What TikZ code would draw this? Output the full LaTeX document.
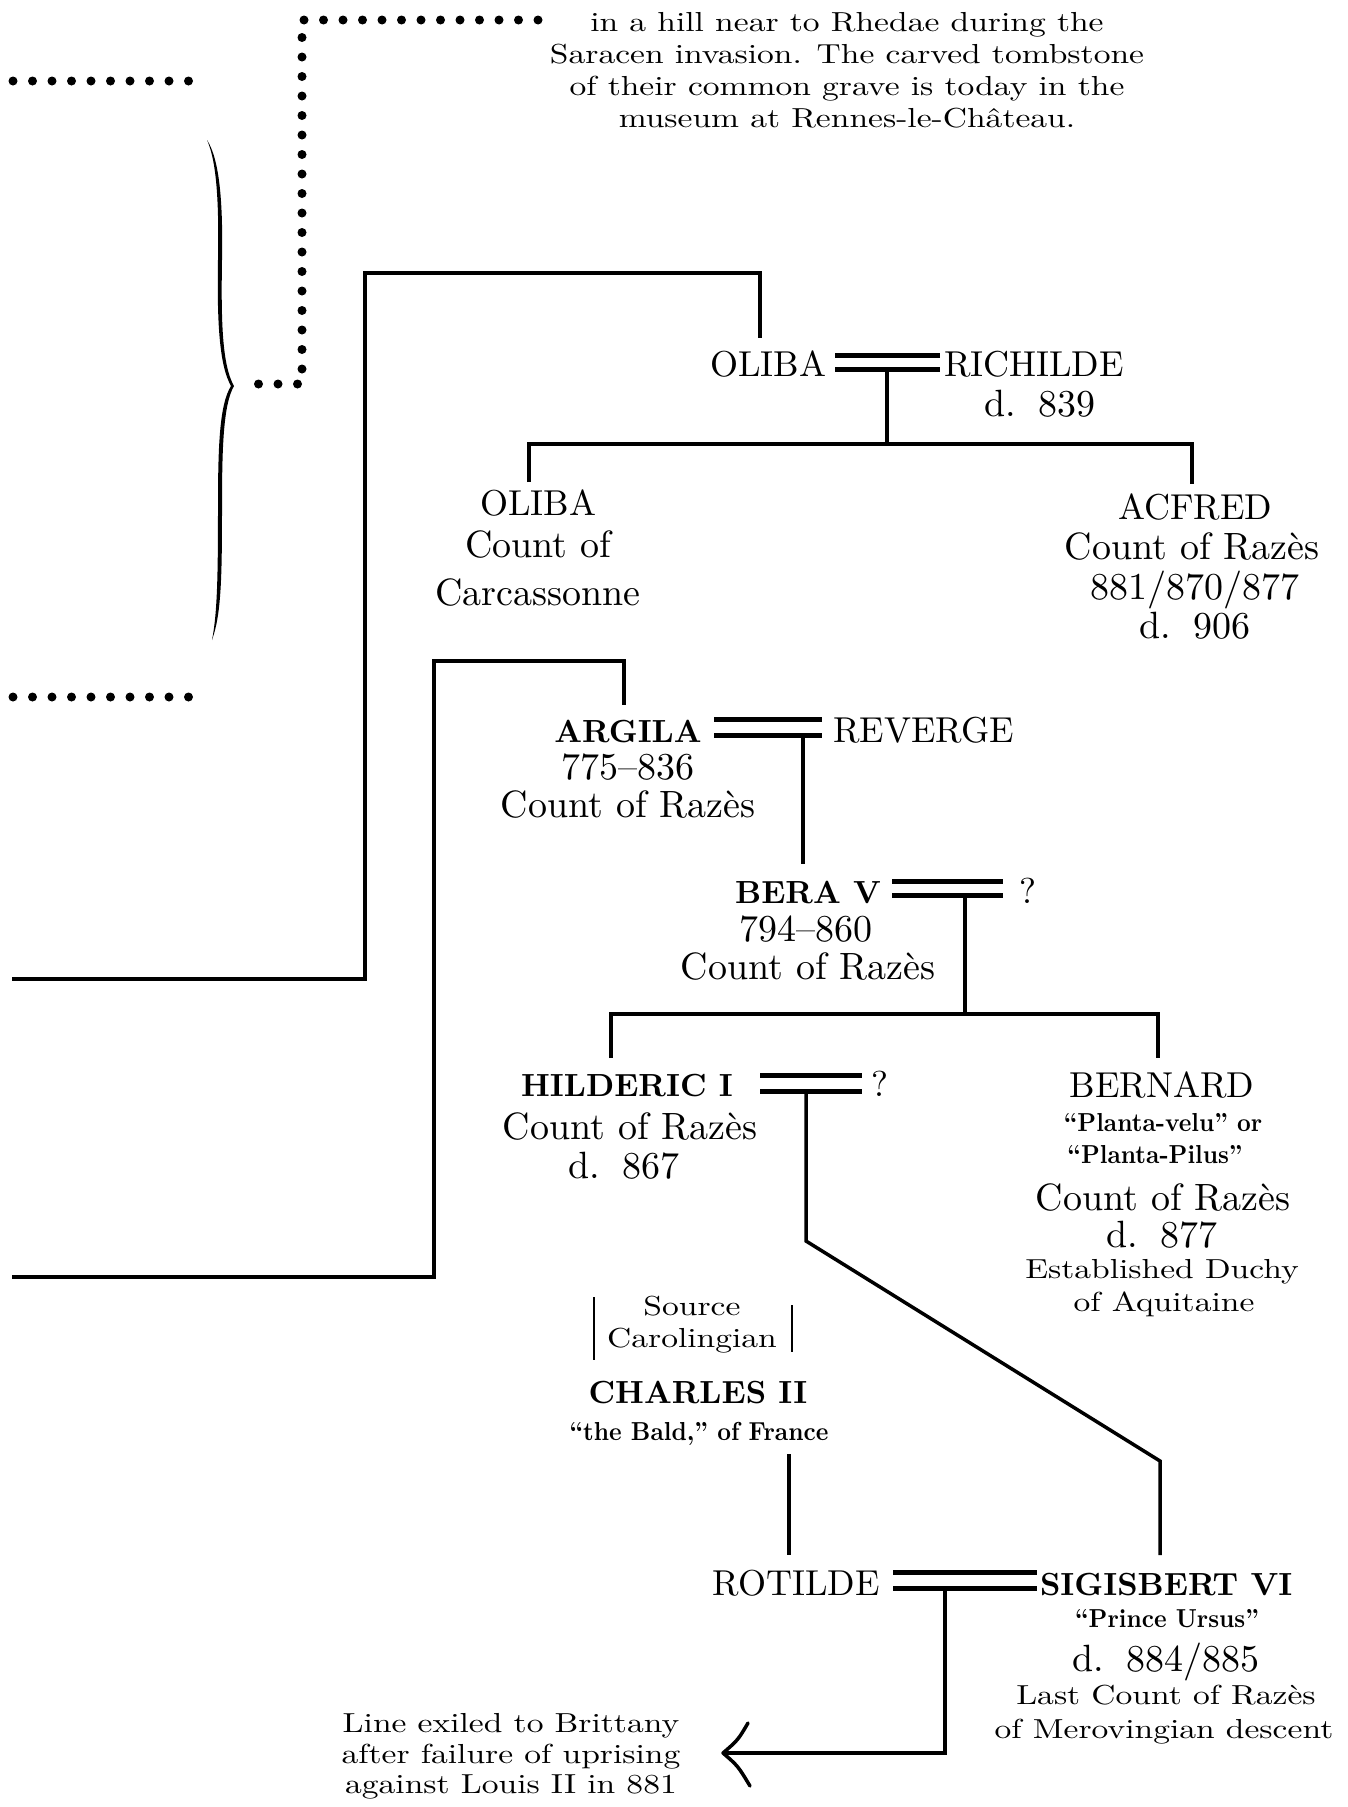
\documentclass[tikz,border=0pt]{standalone}
\usepackage{fontspec}
\setmainfont{lmroman10-regular.otf}[BoldFont=lmroman10-bold.otf]
\newfontfamily\smallserif{lmroman10-regular.otf}[FakeStretch=1.22]
\newfontfamily\condbold{lmroman10-bold.otf}[FakeStretch=0.92]
\begin{document}
\begin{tikzpicture}[x=1pt,y=-1pt,
  lbl/.style={anchor=base, inner sep=0pt, outer sep=0pt},
  nm/.style={lbl, font=\fontsize{36}{40}\selectfont},
  bnm/.style={lbl, font=\fontsize{32}{36}\selectfont\bfseries},
  ds/.style={lbl, font=\fontsize{38}{42}\selectfont},
  sm/.style={lbl, font=\smallserif\fontsize{27.5}{31}\selectfont},
  cb/.style={lbl, font=\condbold\fontsize{26}{30}\selectfont},
  conn/.style={line width=3.5pt},
  bar/.style={line width=4.5pt},
  marr/.style={line width=5pt},
  thinbar/.style={line width=2.5pt},
  dotline/.style={line width=9pt, line cap=round, dash pattern=on 0pt off 19.5pt},
]
\fill[white] (0,0) rectangle (1348,1807);
\useasboundingbox (0,0) rectangle (1348,1807);

% ---------- top note ----------
\node[sm] (p1) at (847,31) {in a hill near to Rhedae during the};
\node[sm] (p2) at (847,63) {Saracen invasion. The carved tombstone};
\node[sm] (p3) at (847,95) {of their common grave is today in the};
\node[sm] (p4) at (847,127) {museum at Rennes-le-Château.};

% ---------- dotted lines ----------
\coordinate (dA) at (538,20);
\coordinate (dB) at (302,20);
\coordinate (dC) at (302,384);
\coordinate (dD) at (258,384);
\draw[dotline] (dA) -- (dB) -- (dC) -- (dD);
\coordinate (dL1) at (13,81);
\coordinate (dL2) at (208,81);
\draw[dotline] (dL1) -- (dL2);
\coordinate (dL3) at (13,697);
\coordinate (dL4) at (208,697);
\draw[dotline] (dL3) -- (dL4);

% ---------- brace ----------
\fill (207,140) .. controls (220,160) and (223,205) .. (222,260)
  .. controls (221,320) and (222,365) .. (234,386)
  .. controls (223,405) and (222,450) .. (222,510)
  .. controls (222,580) and (221,615) .. (212,640)
  .. controls (217,615) and (218,580) .. (218,510)
  .. controls (218,450) and (219,405) .. (231,386)
  .. controls (219,365) and (217,320) .. (218,260)
  .. controls (219,205) and (217,162) .. (207,140) -- cycle;

% ---------- names ----------
\node[nm] (oliba) at (768,376) {OLIBA};
\node[nm, anchor=base west] (richilde) at (944,376) {RICHILDE};
\node[ds] (richd) at (1040,416) {d.\hspace{0.6em}839};

\node[nm] (oliba2) at (538,515) {OLIBA};
\node[ds] (oliba2a) at (538,557) {Count of};
\node[ds] (oliba2b) at (538,605) {Carcassonne};

\node[nm] (acfred) at (1195,519) {ACFRED};
\node[ds] (acfreda) at (1192,559) {Count of Razès};
\node[ds] (acfredb) at (1195,599) {881/870/877};
\node[ds] (acfredc) at (1195,638) {d.\hspace{0.6em}906};

\node[bnm] (argila) at (628,742) {ARGILA};
\node[ds] (argilaa) at (628,779) {775–836};
\node[ds] (argilab) at (628,817) {Count of Razès};
\node[nm, anchor=base west] (reverge) at (833,742) {REVERGE};

\node[bnm] (bera) at (808,903) {BERA V};
\node[ds] (beraa) at (806,941) {794–860};
\node[ds] (berab) at (808,979) {Count of Razès};
\node[nm] (beraq) at (1028,903) {?};

\node[bnm] (hilderic) at (627,1096) {HILDERIC I};
\node[ds] (hila) at (630,1139) {Count of Razès};
\node[ds] (hilb) at (624,1178) {d.\hspace{0.6em}867};
\node[nm] (hilq) at (880,1096) {?};

\node[nm] (bernard) at (1162,1097) {BERNARD};
\node[cb] (berna) at (1163,1131) {“Planta-velu” or};
\node[cb] (bernb) at (1155,1163) {“Planta-Pilus”};
\node[ds] (bernc) at (1163,1210) {Count of Razès};
\node[ds] (bernd) at (1162,1247) {d.\hspace{0.6em}877};
\node[sm] (berne) at (1162,1278) {Established Duchy};
\node[sm] (bernf) at (1164,1311) {of Aquitaine};

\node[sm] (src1) at (692,1315) {Source};
\node[sm] (src2) at (692,1347) {Carolingian};
\coordinate (srcL1) at (594,1297);
\coordinate (srcL2) at (594,1360);
\coordinate (srcR1) at (792,1305);
\coordinate (srcR2) at (792,1352);
\draw[thinbar] (srcL1) -- (srcL2);
\draw[thinbar] (srcR1) -- (srcR2);

\node[bnm] (charles) at (698,1403) {CHARLES II};
\node[cb] (charlesa) at (699,1440) {“the Bald,” of France};

\node[nm] (rotilde) at (796,1595) {ROTILDE};
\node[bnm, anchor=base west] (sigis) at (1040,1595) {SIGISBERT VI};
\node[cb] (sigisa) at (1167,1627) {“Prince Ursus”};
\node[ds] (sigisb) at (1166,1671) {d.\hspace{0.6em}884/885};
\node[sm] (sigisc) at (1166,1704) {Last Count of Razès};
\node[sm] (sigisd) at (1164,1738) {of Merovingian descent};

\node[sm] (exile1) at (511,1732) {Line exiled to Brittany};
\node[sm] (exile2) at (511,1763) {after failure of uprising};
\node[sm] (exile3) at (511,1793) {against Louis II in 881};

% ---------- connectors ----------
% line from left to OLIBA
\coordinate (a1) at (12,979);
\coordinate (a2) at (365,979);
\coordinate (a3) at (365,273);
\coordinate (a4) at (760,273);
\coordinate (a5) at (760,338);
\draw[bar] (a1) -- (a2) -- (a3) -- (a4) -- (a5);

% OLIBA = RICHILDE
\coordinate (m1a) at (835,355); \coordinate (m1b) at (940,355);
\coordinate (m1c) at (835,369); \coordinate (m1d) at (940,369);
\draw[marr] (m1a) -- (m1b);
\draw[marr] (m1c) -- (m1d);
\coordinate (d1a) at (887,369);
\coordinate (d1b) at (887,444);
\draw[conn] (d1a) -- (d1b);
\coordinate (b1a) at (529,482); \coordinate (b1b) at (529,444);
\coordinate (b1c) at (1192,444); \coordinate (b1d) at (1192,484);
\draw[bar] (b1a) -- (b1b) -- (b1c) -- (b1d);

% line from left to ARGILA
\coordinate (c1) at (12,1277);
\coordinate (c2) at (434,1277);
\coordinate (c3) at (434,661);
\coordinate (c4) at (624,661);
\coordinate (c5) at (624,705);
\draw[bar] (c1) -- (c2) -- (c3) -- (c4) -- (c5);

% ARGILA = REVERGE
\coordinate (m2a) at (714,719); \coordinate (m2b) at (822,719);
\coordinate (m2c) at (714,735); \coordinate (m2d) at (822,735);
\draw[marr] (m2a) -- (m2b);
\draw[marr] (m2c) -- (m2d);
\coordinate (d2a) at (803,735);
\coordinate (d2b) at (803,864);
\draw[conn] (d2a) -- (d2b);

% BERA V = ?
\coordinate (m3a) at (892,881); \coordinate (m3b) at (1003,881);
\coordinate (m3c) at (892,895); \coordinate (m3d) at (1003,895);
\draw[marr] (m3a) -- (m3b);
\draw[marr] (m3c) -- (m3d);
\coordinate (d3a) at (965,895);
\coordinate (d3b) at (965,1014);
\draw[conn] (d3a) -- (d3b);
\coordinate (b2a) at (611,1058); \coordinate (b2b) at (611,1014);
\coordinate (b2c) at (1158,1014); \coordinate (b2d) at (1158,1058);
\draw[bar] (b2a) -- (b2b) -- (b2c) -- (b2d);

% HILDERIC I = ?
\coordinate (m4a) at (760,1075); \coordinate (m4b) at (862,1075);
\coordinate (m4c) at (760,1091); \coordinate (m4d) at (862,1091);
\draw[marr] (m4a) -- (m4b);
\draw[marr] (m4c) -- (m4d);
\coordinate (d4a) at (806,1091);
\coordinate (d4b) at (806,1241);
\coordinate (d4c) at (1160,1461);
\coordinate (d4d) at (1160,1555);
\draw[conn] (d4a) -- (d4b) -- (d4c) -- (d4d);

% CHARLES II down to ROTILDE
\coordinate (e1) at (789,1454);
\coordinate (e2) at (789,1555);
\draw[conn] (e1) -- (e2);

% ROTILDE = SIGISBERT VI
\coordinate (m5a) at (893,1572); \coordinate (m5b) at (1037,1572);
\coordinate (m5c) at (893,1588); \coordinate (m5d) at (1037,1588);
\draw[marr] (m5a) -- (m5b);
\draw[marr] (m5c) -- (m5d);
\coordinate (f1) at (945,1588);
\coordinate (f2) at (945,1753);
\coordinate (f3) at (723,1753);
\draw[bar] (f1) -- (f2) -- (f3);
% open arrowhead
\coordinate (h1) at (748,1723);
\coordinate (h2) at (750,1786);
\draw[line width=3.5pt, line cap=round, line join=round]
  (h1) .. controls (738,1740) .. (f3) .. controls (738,1766) .. (h2);
\end{tikzpicture}
\end{document}
